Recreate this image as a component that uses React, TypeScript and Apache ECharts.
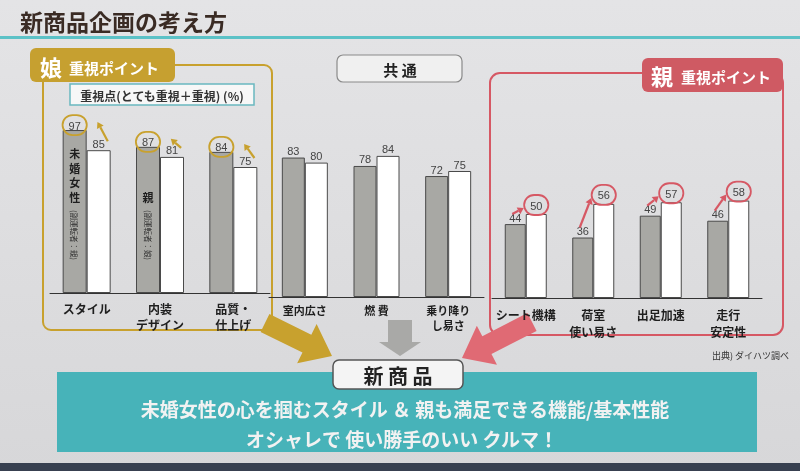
import React, { useEffect, useRef } from 'react';
import * as echarts from 'echarts';

// ---- data ----
const titleText = '新商品企画の考え方';
const seriesNames = ['未婚女性', '親'];
const categoriesDaughter = ['スタイル', '内装\nデザイン', '品質・\n仕上げ'];
const categoriesCommon = ['室内広さ', '燃 費', '乗り降り\nし易さ'];
const categoriesParent = ['シート機構', '荷室\n使い易さ', '出足加速', '走行\n安定性'];
const womenDaughter = [97, 87, 84];
const parentsDaughter = [85, 81, 75];
const womenCommon = [83, 78, 72];
const parentsCommon = [80, 84, 75];
const womenParent = [44, 36, 49, 46];
const parentsParent = [50, 56, 57, 58];
const barNoteMain = ['未婚女性', '親', ''];
const barNoteSub = ['(副運転者：親)', '(副運転者：娘)', ''];

// ---- styles ----
const FONT = '"Noto Sans CJK JP", "Noto Sans", sans-serif';
const NUM_FONT = '"Liberation Sans", Arial, sans-serif';
const GOLD = '#c8a12e';
const PINK = '#d65864';
const TEAL = '#47b3b9';
const GRAY_BAR = '#a8a8a4';
const BW = [24, 23, 21];
const SUB_LEN = 60;
const MAIN_LH = 14.5;

function smallArrow(tail: number[], head: number[], color: string) {
  const dx = head[0] - tail[0];
  const dy = head[1] - tail[1];
  const L = Math.hypot(dx, dy) || 1;
  const ux = dx / L, uy = dy / L, px = -uy, py = ux;
  const hl = 6, hh = 3.8;
  const bx = head[0] - ux * hl, by = head[1] - uy * hl;
  return [
    { type: 'line', shape: { x1: tail[0], y1: tail[1], x2: bx, y2: by }, style: { stroke: color, lineWidth: 2.2 } },
    { type: 'polygon', shape: { points: [[head[0], head[1]], [bx + px * hh, by + py * hh], [bx - px * hh, by - py * hh]] }, style: { fill: color } },
  ];
}

function bigArrow(tail: number[], tip: number[], sh: number, hl: number, hh: number) {
  const dx = tip[0] - tail[0], dy = tip[1] - tail[1];
  const L = Math.hypot(dx, dy);
  const ux = dx / L, uy = dy / L, px = -uy, py = ux;
  const b = [tip[0] - ux * hl, tip[1] - uy * hl];
  return [
    [tail[0] + px * sh, tail[1] + py * sh],
    [b[0] + px * sh, b[1] + py * sh],
    [b[0] + px * hh, b[1] + py * hh],
    tip,
    [b[0] - px * hh, b[1] - py * hh],
    [b[0] - px * sh, b[1] - py * sh],
    [tail[0] - px * sh, tail[1] - py * sh],
  ];
}

const circled = (v: number, color: string, distance: number) => ({
  value: v,
  label: { borderColor: color, borderWidth: 1.8, borderRadius: 12, padding: [5, 6, 4, 6], distance },
});

export default function App() {
  const ref = useRef<HTMLDivElement>(null);
  useEffect(() => {
    if (!ref.current) return;
    const chart = echarts.init(ref.current, null, { renderer: 'svg' });

    const xAxisCommon = (gridIndex: number, data: string[], fontSize: number, margin: number, lineHeight: number) => ({
      type: 'category', gridIndex, data,
      axisLine: { lineStyle: { color: '#333', width: 1 } },
      axisTick: { length: 3, lineStyle: { color: '#333' } },
      axisLabel: { color: '#1e1e1e', fontFamily: FONT, fontWeight: 'bold', fontSize, margin, lineHeight, interval: 0 },
    });
    const yAxisCommon = (gridIndex: number) => ({ type: 'value', gridIndex, min: 0, max: 100, show: false });

    const barLabel = { show: true, position: 'top', distance: 1, fontSize: 11, color: '#444', fontFamily: NUM_FONT };
    const barSeries = (name: string, idx: number, data: any[], color: string, bw: number) => ({
      type: 'bar', name, xAxisIndex: idx, yAxisIndex: idx, data, barWidth: bw, barGap: '0%',
      itemStyle: { color, borderColor: '#4a4a4a', borderWidth: 1 },
      label: barLabel,
    });

    const renderDaughter = (params: any, api: any) => {
      const i = api.value(0), g = api.value(1), w = api.value(2);
      const base = api.coord([i, 0]);
      const cx = base[0];
      const gTop = api.coord([i, g])[1];
      const wTop = api.coord([i, w])[1];
      const bw = BW[0];
      const children: any[] = smallArrow([cx + bw * 0.88, wTop - 9], [cx + bw * 0.45, gTop - 8], GOLD);
      const gx = cx - bw / 2;
      const subBottom = base[1] - 28;
      if (barNoteSub[i]) {
        children.push({
          type: 'text', x: gx, y: subBottom - SUB_LEN / 2, rotation: -Math.PI / 2,
          style: { text: barNoteSub[i], fill: '#333', fontFamily: FONT, fontSize: 7.5, align: 'center', verticalAlign: 'middle' },
        });
      }
      if (barNoteMain[i]) {
        const sub = barNoteSub[i] ? SUB_LEN + 1 : 0;
        children.push({
          type: 'text', x: gx, y: subBottom - sub,
          style: { text: barNoteMain[i].split('').join('\n'), fill: '#1e1e1e', fontFamily: FONT, fontWeight: 'bold', fontSize: 11, lineHeight: MAIN_LH, align: 'center', verticalAlign: 'bottom' },
        });
      }
      return { type: 'group', children };
    };

    const renderParent = (params: any, api: any) => {
      const i = api.value(0), g = api.value(1), w = api.value(2);
      const cx = api.coord([i, 0])[0];
      const gTop = api.coord([i, g])[1];
      const wTop = api.coord([i, w])[1];
      const bw = BW[2];
      return { type: 'group', children: smallArrow([cx - bw / 2 - 3, gTop - 10], [cx - 2, wTop - 6], PINK) };
    };

    const option: any = {
      animation: false,
      grid: [
        { left: 50, top: 125, width: 220, height: 168 },
        { left: 269, top: 129, width: 215, height: 168 },
        { left: 492, top: 130, width: 270, height: 168 },
      ],
      xAxis: [
        xAxisCommon(0, categoriesDaughter, 12, 7, 16),
        xAxisCommon(1, categoriesCommon, 11, 5, 15),
        xAxisCommon(2, categoriesParent, 12, 8, 17),
      ],
      yAxis: [yAxisCommon(0), yAxisCommon(1), yAxisCommon(2)],
      series: [
        barSeries(seriesNames[0], 0, womenDaughter.map(v => circled(v, GOLD, -5)), GRAY_BAR, BW[0]),
        barSeries(seriesNames[1], 0, parentsDaughter, '#ffffff', BW[0]),
        barSeries(seriesNames[0], 1, womenCommon, GRAY_BAR, BW[1]),
        barSeries(seriesNames[1], 1, parentsCommon, '#ffffff', BW[1]),
        barSeries(seriesNames[0], 2, womenParent, GRAY_BAR, BW[2]),
        barSeries(seriesNames[1], 2, parentsParent.map(v => circled(v, PINK, -1)), '#ffffff', BW[2]),
        {
          type: 'custom', xAxisIndex: 0, yAxisIndex: 0, z: 5, silent: true,
          data: womenDaughter.map((g, i) => [i, g, parentsDaughter[i]]),
          renderItem: renderDaughter,
        },
        {
          type: 'custom', xAxisIndex: 2, yAxisIndex: 2, z: 5, silent: true,
          data: womenParent.map((g, i) => [i, g, parentsParent[i]]),
          renderItem: renderParent,
        },
      ],
      graphic: [
        { type: 'rect', z: -10, shape: { x: 0, y: 0, width: 800, height: 471 },
          style: { fill: new echarts.graphic.LinearGradient(0, 0, 0, 1, [{ offset: 0, color: '#e4e4e6' }, { offset: 1, color: '#d7d7d9' }]) } },
        { type: 'text', x: 20, y: 21, style: { text: titleText, font: `bold 23px ${FONT}`, fill: '#3a2b24', verticalAlign: 'middle' } },
        { type: 'rect', shape: { x: 0, y: 36, width: 800, height: 3 }, style: { fill: '#5cc2c7' } },
        // daughter panel
        { type: 'rect', shape: { x: 43, y: 65, width: 229, height: 265, r: 8 }, style: { fill: 'none', stroke: GOLD, lineWidth: 2 } },
        { type: 'rect', shape: { x: 30, y: 48, width: 145, height: 34, r: 6 }, style: { fill: '#c6a030' } },
        { type: 'text', x: 40, y: 66, style: { text: '娘', font: `bold 22px ${FONT}`, fill: '#fff', verticalAlign: 'middle' } },
        { type: 'text', x: 69, y: 67, style: { text: '重視ポイント', font: `bold 15px ${FONT}`, fill: '#fff', verticalAlign: 'middle' } },
        { type: 'rect', shape: { x: 70, y: 84, width: 184, height: 21 }, style: { fill: '#f7f7f7', stroke: '#6ab8c0', lineWidth: 1.5 } },
        { type: 'text', x: 162, y: 95, style: { text: '重視点(とても重視＋重視) (%)', font: `bold 12px ${FONT}`, fill: '#333', align: 'center', verticalAlign: 'middle' } },
        // common
        { type: 'rect', shape: { x: 337, y: 55, width: 125, height: 27, r: 6 }, style: { fill: '#f0f0f0', stroke: '#8a8a8a', lineWidth: 1.2 } },
        { type: 'text', x: 400, y: 69, style: { text: '共 通', font: `bold 15px ${FONT}`, fill: '#222', align: 'center', verticalAlign: 'middle' } },
        // parent panel
        { type: 'rect', shape: { x: 490, y: 73, width: 293, height: 262, r: 10 }, style: { fill: 'none', stroke: PINK, lineWidth: 2 } },
        { type: 'rect', shape: { x: 642, y: 58, width: 141, height: 34, r: 6 }, style: { fill: '#cf5a63' } },
        { type: 'text', x: 651, y: 75, style: { text: '親', font: `bold 22px ${FONT}`, fill: '#fff', verticalAlign: 'middle' } },
        { type: 'text', x: 681, y: 76, style: { text: '重視ポイント', font: `bold 15px ${FONT}`, fill: '#fff', verticalAlign: 'middle' } },
        { type: 'text', x: 712, y: 355, style: { text: '出典) ダイハツ調べ', font: `9px ${FONT}`, fill: '#333', verticalAlign: 'middle' } },
        // banner
        { type: 'rect', shape: { x: 57, y: 372, width: 700, height: 80 }, style: { fill: TEAL } },
        { type: 'text', x: 405, y: 408, style: { text: '未婚女性の心を掴むスタイル ＆ 親も満足できる機能/基本性能', font: `bold 19px ${FONT}`, fill: '#f2f2f2', align: 'center', verticalAlign: 'middle' } },
        { type: 'text', x: 402, y: 438, style: { text: 'オシャレで 使い勝手のいい クルマ！', font: `bold 19px ${FONT}`, fill: '#f2f2f2', align: 'center', verticalAlign: 'middle' } },
        // arrows
        { type: 'polygon', shape: { points: bigArrow([265, 323], [332, 356], 10, 28, 22) }, style: { fill: GOLD } },
        { type: 'polygon', shape: { points: bigArrow([400, 320], [400, 356], 12, 14, 21) }, style: { fill: '#a9a9a7' } },
        { type: 'polygon', shape: { points: bigArrow([532, 322], [462, 358], 10, 28, 22) }, style: { fill: '#e06a74' } },
        // new product box
        { type: 'rect', shape: { x: 333, y: 360, width: 130, height: 29, r: 6 }, style: { fill: '#f4f4f4', stroke: '#555', lineWidth: 1.5 } },
        { type: 'text', x: 398, y: 375, style: { text: '新 商 品', font: `bold 20px ${FONT}`, fill: '#222', align: 'center', verticalAlign: 'middle' } },
        { type: 'rect', shape: { x: 0, y: 463, width: 800, height: 8 }, style: { fill: '#384050' } },
      ],
    };
    chart.setOption(option);
    return () => chart.dispose();
  }, []);
  return <div ref={ref} style={{ position: 'fixed', left: 0, top: 0, width: 800, height: 471 }} />;
}
